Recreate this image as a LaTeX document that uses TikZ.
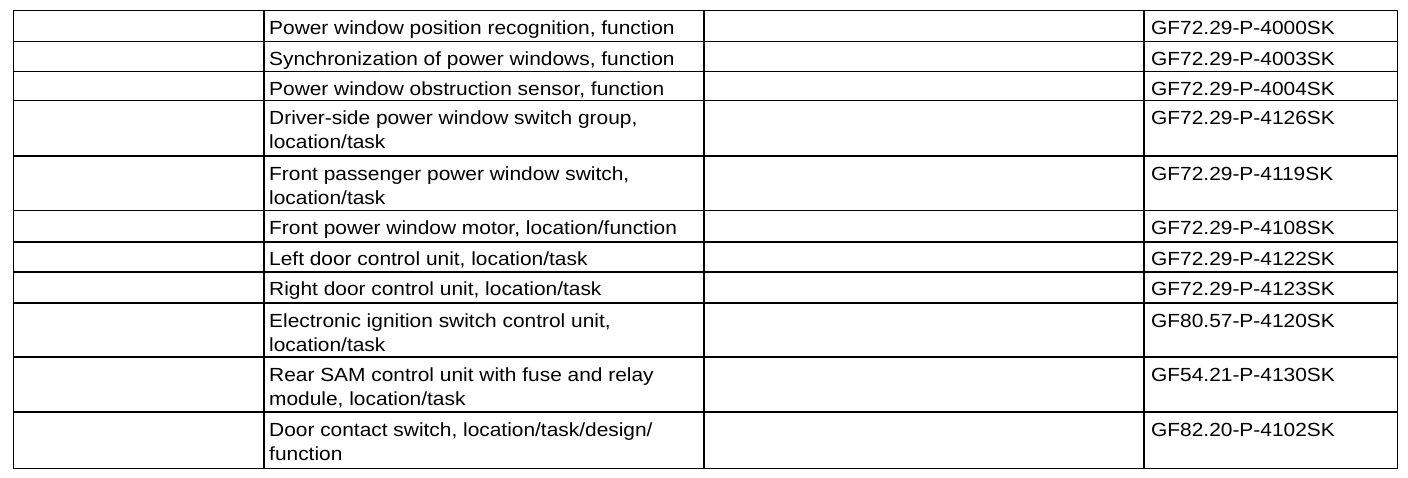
\documentclass[tikz,border=0pt]{standalone}
\usepackage{fontspec}
\setmainfont{Liberation Sans}[FakeStretch=1.1]
\usepackage{tikz}

\begin{document}
\begin{tikzpicture}[x=1pt,y=-1pt,
  rule/.style={line width=1.5pt},
  celltext/.style={anchor=base west,inner sep=0pt,align=left,
    font=\fontsize{19}{24}\selectfont}]
  \useasboundingbox (0,0) rectangle (1408,478);
  % rows: top edge / lines / description / document number
  \foreach \top/\n/\desc/\doc [count=\i] in {
      10.7/1/{Power window position recognition, function}/GF72.29-P-4000SK,
      41.5/1/{Synchronization of power windows, function}/GF72.29-P-4003SK,
      71.5/1/{Power window obstruction sensor, function}/GF72.29-P-4004SK,
      100.7/2/{Driver-side power window switch group,\\location/task}/GF72.29-P-4126SK,
      156.2/2/{Front passenger power window switch,\\location/task}/GF72.29-P-4119SK,
      210.5/1/{Front power window motor, location/function}/GF72.29-P-4108SK,
      241.8/1/{Left door control unit, location/task}/GF72.29-P-4122SK,
      271.8/1/{Right door control unit, location/task}/GF72.29-P-4123SK,
      303/2/{Electronic ignition switch control unit,\\location/task}/GF80.57-P-4120SK,
      357/2/{Rear SAM control unit with fuse and relay\\module, location/task}/GF54.21-P-4130SK,
      412/2/{Door contact switch, location/task/design/\\function}/GF82.20-P-4102SK} {
    \draw[rule] (13.3,\top) -- (1397.3,\top);
    \node[celltext] (desc\i) at (269,\top+24+24*\n-24) {\desc};
    \node[celltext] (doc\i) at (1151,\top+24) {\doc};
  }
  % outer frame and column rules
  \draw[rule] (13.3,10.7) rectangle (1397.3,468.5);
  \draw[rule] (264,10.7) -- (264,468.5);
  \draw[rule] (704,10.7) -- (704,468.5);
  \draw[rule] (1144,10.7) -- (1144,468.5);
\end{tikzpicture}
\end{document}
